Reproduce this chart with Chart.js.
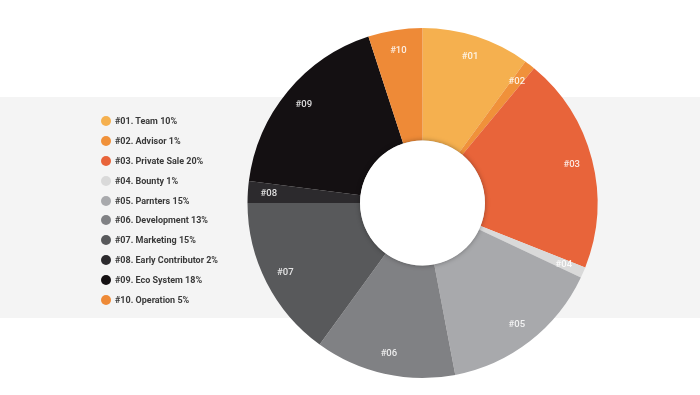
<!DOCTYPE html>
<html>
<head>
<meta charset="utf-8">
<script src="https://cdn.jsdelivr.net/npm/chart.js@4.4.0/dist/chart.umd.min.js"></script>
<style>
  body { margin: 0; background: #fff; }
  #wrap { position: relative; width: 700px; height: 395px; }
  #legend { position: absolute; left: 101px; top: 111px; margin: 0; padding: 0; list-style: none;
            font-family: Roboto, sans-serif; font-weight: 700; font-size: 9px; color: #3a3a3a; }
  #legend li { height: 19.9px; line-height: 20px; display: flex; align-items: center; }
  #legend span.dot { width: 10px; height: 10px; border-radius: 50%; margin-right: 4px; display: inline-block; }
</style>
</head>
<body>
<div id="wrap">
  <canvas id="token" width="700" height="395"></canvas>
  <ul id="legend"></ul>
</div>
<script>
// Data
const codes = ['#01', '#02', '#03', '#04', '#05', '#06', '#07', '#08', '#09', '#10'];
const names = ['Team', 'Advisor', 'Private Sale', 'Bounty', 'Parnters', 'Development', 'Marketing', 'Early Contributor', 'Eco System', 'Operation'];
const shares = [10, 1, 20, 1, 15, 13, 15, 2, 18, 5];
const colors = ['#f5b04f', '#f0913a', '#e8643a', '#d9d9d9', '#a8a9ac', '#808184', '#58595b', '#2c2a2d', '#141012', '#ee8a37'];

// Legend (html)
const legend = document.getElementById('legend');
codes.forEach((c, i) => {
  const li = document.createElement('li');
  li.innerHTML = `<span class="dot" style="background:${colors[i]}"></span>${c}. ${names[i]} ${shares[i]}%`;
  legend.appendChild(li);
});

// Grey band behind everything
const band = {
  id: 'band',
  beforeDraw(chart) {
    const ctx = chart.ctx;
    ctx.save();
    ctx.fillStyle = '#f4f4f4';
    ctx.fillRect(0, 97, chart.width, 221);
    ctx.restore();
  }
};

// White hole + slice codes near the outer edge
const sliceLabels = {
  id: 'sliceLabels',
  afterDatasetsDraw(chart) {
    const ctx = chart.ctx;
    const arcs = chart.getDatasetMeta(0).data;
    const a0 = arcs[0].getProps(['x', 'y', 'innerRadius']);
    ctx.save();
    ctx.shadowColor = 'rgba(0,0,0,0.35)';
    ctx.shadowBlur = 5;
    ctx.fillStyle = '#fff';
    ctx.beginPath();
    ctx.arc(a0.x, a0.y, a0.innerRadius, 0, Math.PI * 2);
    ctx.fill();
    ctx.restore();

    ctx.save();
    ctx.font = '500 9.5px Roboto, sans-serif';
    ctx.fillStyle = 'rgba(255,255,255,0.85)';
    ctx.textAlign = 'center';
    ctx.textBaseline = 'middle';
    arcs.forEach((arc, i) => {
      const p = arc.getProps(['x', 'y', 'startAngle', 'endAngle', 'outerRadius']);
      const mid = (p.startAngle + p.endAngle) / 2;
      const r = p.outerRadius - 21;
      ctx.fillText(codes[i], p.x + Math.cos(mid) * r, p.y + Math.sin(mid) * r);
    });
    ctx.restore();
  }
};

new Chart(document.getElementById('token'), {
  type: 'doughnut',
  data: {
    labels: names,
    datasets: [{
      data: shares,
      backgroundColor: colors,
      borderWidth: 0
    }]
  },
  options: {
    responsive: false,
    animation: false,
    cutout: '35.7%',
    layout: { padding: { left: 247, right: 102, top: 28, bottom: 17 } },
    plugins: {
      legend: { display: false },
      tooltip: { enabled: false }
    }
  },
  plugins: [band, sliceLabels]
});
</script>
</body>
</html>
